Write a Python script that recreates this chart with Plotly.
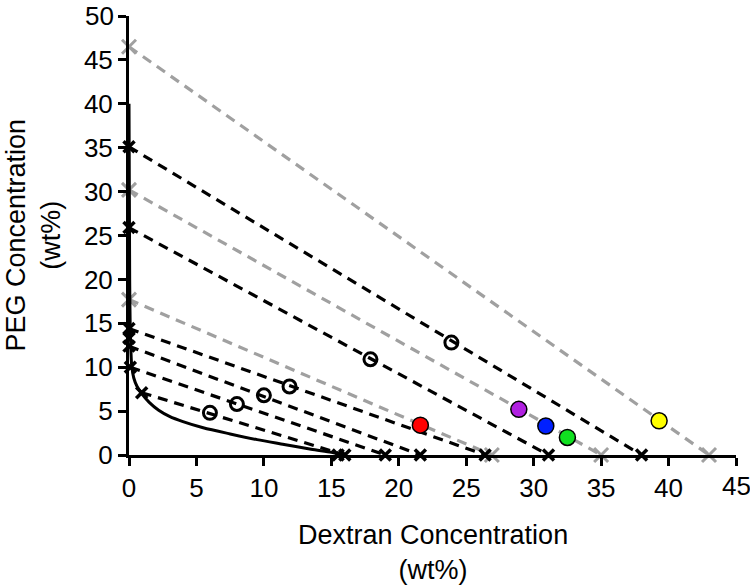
import plotly.graph_objects as go

# Binodal curve
binodal_x = [0.0, 0.05, 0.1, 0.2, 0.35, 0.6, 0.94, 1.5, 2.2, 3.0, 4.0, 5.5, 7.5, 9.5, 11.5, 13.5, 15.0, 15.6]
binodal_y = [40.0, 20.0, 14.0, 10.2, 8.8, 7.8, 7.0, 6.0, 5.1, 4.4, 3.8, 3.1, 2.4, 1.75, 1.2, 0.65, 0.3, 0.1]

# Black tie lines: (x_top, y_top, x_bottom, y_bottom)
black_ties = [
    (0.0, 35.1, 38.0, 0.0),
    (0.0, 25.9, 31.1, 0.0),
    (0.0, 14.4, 26.4, 0.0),
    (0.0, 12.4, 21.6, 0.0),
    (0.1, 10.0, 19.0, 0.0),
    (0.94, 7.1, 16.0, 0.0),
]
extra_black_x = [0.0, 15.5]
extra_black_y = [13.3, 0.0]

# Gray tie lines
gray_ties = [
    (0.0, 46.5, 43.0, 0.0),
    (0.0, 30.2, 35.0, 0.0),
    (0.0, 17.7, 26.9, 0.0),
]

# Open circle points
open_x = [6.0, 8.0, 10.0, 11.9, 17.9, 23.9]
open_y = [4.8, 5.8, 6.8, 7.8, 10.9, 12.8]

# Coloured points
color_x = [21.6, 28.9, 30.9, 32.5, 39.3]
color_y = [3.4, 5.2, 3.3, 2.0, 3.9]
color_c = ["#ff0000", "#b020e0", "#0020ff", "#10e020", "#ffff00"]

x_ticks = list(range(0, 50, 5))
y_ticks = list(range(0, 55, 5))
x_ticktext = [str(v) for v in x_ticks]
y_ticktext = [str(v) for v in y_ticks]

GRAY = "#a0a0a0"
TICKSIZE = 26
fig = go.Figure()

for (x0, y0, x1, y1) in gray_ties:
    fig.add_trace(go.Scatter(x=[x0, x1], y=[y0, y1], mode="lines+markers",
                             line=dict(color=GRAY, width=3.2, dash="10px,7px"),
                             marker=dict(symbol="x-thin", size=14, line=dict(color=GRAY, width=3)),
                             cliponaxis=False, showlegend=False))

for (x0, y0, x1, y1) in black_ties:
    fig.add_trace(go.Scatter(x=[x0, x1], y=[y0, y1], mode="lines+markers",
                             line=dict(color="black", width=3.2, dash="10px,7px"),
                             marker=dict(symbol="x-thin", size=11, line=dict(color="black", width=3.5)),
                             cliponaxis=False, showlegend=False))

fig.add_trace(go.Scatter(x=extra_black_x, y=extra_black_y, mode="markers",
                         marker=dict(symbol="x-thin", size=11, line=dict(color="black", width=3.5)),
                         cliponaxis=False, showlegend=False))

fig.add_trace(go.Scatter(x=binodal_x, y=binodal_y, mode="lines",
                         line=dict(color="black", width=3, shape="spline", smoothing=0.8),
                         cliponaxis=False, showlegend=False))

fig.add_trace(go.Scatter(x=open_x, y=open_y, mode="markers",
                         marker=dict(symbol="circle-open", size=13, color="black", line=dict(width=3)),
                         showlegend=False))

fig.add_trace(go.Scatter(x=color_x, y=color_y, mode="markers",
                         marker=dict(symbol="circle", size=16, color=color_c,
                                     line=dict(color="black", width=1.5)),
                         showlegend=False))

axis_common = dict(showline=True, linewidth=3, linecolor="black", ticks="outside",
                   ticklen=8, tickwidth=3, tickcolor="black", showgrid=False, zeroline=False,
                   tickfont=dict(family="Liberation Sans, Arial", size=TICKSIZE, color="black"))

# The last labels at each axis end would spill past the page edge (Plotly hides those),
# so they are placed as annotations at the same tick values.
x_axis_text = x_ticktext[:-1] + [""]
y_axis_text = y_ticktext[:-1] + [""]

annotations = [
    dict(text="Dextran Concentration<br>(wt%)", xref="paper", yref="paper",
         x=0.5, y=-0.221, xanchor="center", yanchor="middle", showarrow=False,
         font=dict(size=27, color="black")),
    dict(text="PEG Concentration<br>(wt%)", xref="paper", yref="paper",
         x=-0.158, y=0.5, xanchor="center", yanchor="middle", showarrow=False,
         textangle=-90, font=dict(size=27, color="black")),
    dict(text=x_ticktext[-1], xref="x", yref="y", x=x_ticks[-1], y=0,
         xanchor="center", yanchor="middle", yshift=-31, showarrow=False,
         font=dict(family="Liberation Sans, Arial", size=TICKSIZE, color="black")),
    dict(text=y_ticktext[-1], xref="x", yref="y", x=0, y=y_ticks[-1],
         xanchor="right", yanchor="middle", xshift=-13, showarrow=False,
         font=dict(family="Liberation Sans, Arial", size=TICKSIZE, color="black")),
]

fig.update_layout(
    width=750, height=585,
    margin=dict(l=129, r=14, t=16, b=130),
    paper_bgcolor="white", plot_bgcolor="white",
    xaxis=dict(range=[0, 45], tickvals=x_ticks, ticktext=x_axis_text, **axis_common),
    yaxis=dict(range=[0, 50], tickvals=y_ticks, ticktext=y_axis_text, **axis_common),
    font=dict(family="Liberation Sans, Arial", color="black"),
    annotations=annotations,
)

fig.write_html("out.html")
